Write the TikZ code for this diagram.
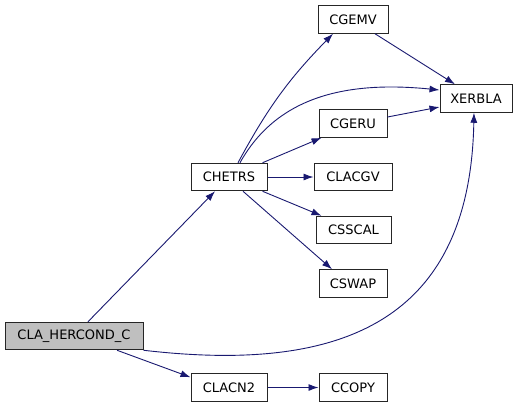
\documentclass[tikz,border=0pt]{standalone}
\usepackage{fontspec}
\setmainfont{DejaVu Sans}
\usetikzlibrary{arrows.meta}
\definecolor{edgeblue}{HTML}{191970}
\definecolor{rootgray}{HTML}{BFBFBF}
\tikzset{
  fnbox/.style={draw=black!85, line width=1pt, fill=white, inner xsep=0pt, inner ysep=0pt,
    minimum height=27.5pt, font=\fontsize{13}{15}\selectfont},
  rootbox/.style={fnbox, fill=rootgray},
  call/.style={->, draw=edgeblue, line width=0.9pt}
}
\begin{document}
\begin{tikzpicture}[x=1pt, y=-1pt, >={Latex[length=10pt,width=7pt]}]
    \useasboundingbox (0,0) rectangle (517,408);

    \node[rootbox, minimum width=138pt] (hercond) at (74,336) {CLA\_HERCOND\_C};
    \node[fnbox, minimum width=76pt] (chetrs) at (229,177) {CHETRS};
    \node[fnbox, minimum width=76pt] (clacn2) at (229,387.5) {CLACN2};

    \node[fnbox, minimum width=70pt] (cgemv) at (353,19.5) {CGEMV};
    \node[fnbox, minimum width=72pt] (xerbla) at (476,98.5) {XERBLA};
    \node[fnbox, minimum width=68pt] (cgeru) at (353,123.5) {CGERU};
    \node[fnbox, minimum width=78pt] (clacgv) at (353,177) {CLACGV};
    \node[fnbox, minimum width=75pt] (csscal) at (353.5,230) {CSSCAL};
    \node[fnbox, minimum width=68pt] (cswap) at (353,283.5) {CSWAP};
    \node[fnbox, minimum width=68pt] (ccopy) at (353,387.5) {CCOPY};

    % calls of CLA_HERCOND_C
    \draw[call] ([xshift=14pt]hercond.north) -- ([xshift=-14pt]chetrs.south);
    \draw[call] ([xshift=43pt]hercond.south) -- ([yshift=-4pt]clacn2.north west);
    \draw[call] (hercond.south east) .. controls (330,372) and (470,330) .. ([xshift=-2pt]xerbla.south);

    % calls of CHETRS
    \draw[call] ([xshift=9pt]chetrs.north) to[bend left=8] ([xshift=-20pt]cgemv.south);
    \draw[call] ([xshift=11pt]chetrs.north) .. controls (275,100) and (340,80) .. ([yshift=8.5pt]xerbla.west);
    \draw[call] ([xshift=-5pt]chetrs.north east) -- ([xshift=3pt]cgeru.south west);
    \draw[call] (chetrs.east) -- (clacgv.west);
    \draw[call] ([xshift=-5pt]chetrs.south east) -- ([xshift=6pt]csscal.north west);
    \draw[call] ([xshift=14pt]chetrs.south) -- ([xshift=-21pt]cswap.north);

    \draw[call] ([xshift=22pt]cgemv.south) -- ([xshift=-21pt]xerbla.north);
    \draw[call] ([yshift=6.5pt]cgeru.east) -- ([yshift=-8.5pt]xerbla.west);
    \draw[call] (clacn2.east) -- (ccopy.west);
\end{tikzpicture}
\end{document}
